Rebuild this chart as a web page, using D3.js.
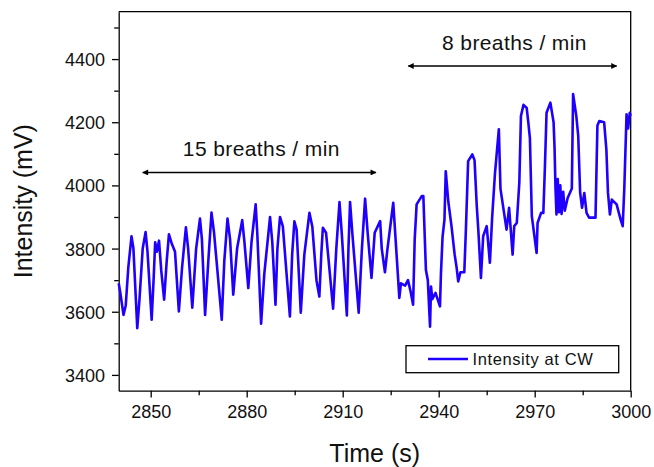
<!DOCTYPE html>
<html>
<head>
<meta charset="utf-8">
<script src="https://cdn.jsdelivr.net/npm/d3@7"></script>
<style>
  body { margin: 0; background: #fff; }
  svg { display: block; font-family: "Liberation Sans", Arial, sans-serif; }
</style>
</head>
<body>
<div id="chart"></div>
<script>
// time (s) and intensity (mV)
var times = [
  2840.0, 2840.5, 2841.5, 2842.2, 2843.0, 2844.0, 2844.6, 2845.8, 2846.5, 2847.5,
  2848.4, 2849.0, 2850.3, 2850.9, 2851.4, 2851.9, 2852.6, 2853.3, 2854.2, 2855.0,
  2855.7, 2856.6, 2857.6, 2858.8, 2859.8, 2861.0, 2861.7, 2863.0, 2864.2, 2865.4,
  2866.0, 2867.0, 2868.0, 2869.0, 2869.8, 2872.2, 2873.0, 2874.0, 2874.8, 2875.8,
  2877.0, 2878.6, 2879.3, 2880.5, 2881.5, 2882.8, 2883.3, 2884.5, 2885.5, 2887.3,
  2888.0, 2889.0, 2889.6, 2890.4, 2891.3, 2893.5, 2894.2, 2894.9, 2895.6, 2896.9,
  2898.0, 2899.6, 2900.5, 2901.8, 2902.7, 2903.3, 2903.8, 2904.8, 2907.0, 2908.0,
  2909.0, 2909.7, 2911.3, 2911.8, 2912.3, 2913.0, 2915.0, 2916.0, 2917.0, 2917.8,
  2919.0, 2920.0, 2921.7, 2922.2, 2923.2, 2924.0, 2925.8, 2926.4, 2927.7, 2928.2,
  2929.5, 2930.4, 2931.2, 2932.0, 2932.5, 2933.1, 2934.7, 2935.2, 2936.0, 2936.6,
  2937.0, 2937.3, 2937.6, 2938.0, 2939.0, 2940.4, 2940.7, 2941.2, 2941.8, 2942.2,
  2943.0, 2944.0, 2945.0, 2945.6, 2946.1, 2946.8, 2948.0, 2948.5, 2949.2, 2950.5,
  2951.2, 2951.9, 2952.4, 2953.2, 2953.9, 2955.0, 2956.0, 2956.7, 2957.6, 2958.8,
  2959.3, 2961.2, 2962.0, 2963.1, 2963.6, 2964.4, 2965.2, 2965.7, 2966.5, 2967.5,
  2968.0, 2968.5, 2969.1, 2970.6, 2970.9, 2972.0, 2972.7, 2973.2, 2973.7, 2974.9,
  2975.9, 2976.2, 2976.5, 2976.8, 2977.2, 2977.6, 2978.0, 2978.4, 2978.9, 2979.4,
  2980.3, 2981.6, 2982.0, 2983.0, 2983.6, 2984.2, 2984.8, 2985.5, 2986.2, 2987.0,
  2989.0, 2989.6, 2990.2, 2991.7, 2992.4, 2992.9, 2993.5, 2994.1, 2995.6, 2996.9,
  2997.5, 2998.0, 2998.7, 2999.2, 2999.7, 3000.0
];
var intensity = [
  3690, 3660, 3590, 3620, 3740, 3839, 3800, 3548, 3640, 3800,
  3852, 3790, 3575, 3700, 3820, 3790, 3825, 3730, 3638, 3760,
  3845, 3815, 3790, 3601, 3740, 3867, 3800, 3613, 3800, 3895,
  3830, 3590, 3760, 3914, 3850, 3575, 3760, 3895, 3830, 3654,
  3800, 3890, 3820, 3675, 3820, 3940, 3850, 3562, 3720, 3900,
  3820, 3622, 3800, 3900, 3870, 3585, 3780, 3886, 3860, 3597,
  3780, 3913, 3870, 3700, 3648, 3780, 3866, 3850, 3610, 3800,
  3947, 3850, 3588, 3800, 3947, 3850, 3597, 3800, 3958, 3850,
  3707, 3850, 3887, 3800, 3725, 3800, 3945, 3850, 3644, 3690,
  3683, 3700, 3665, 3622, 3829, 3940, 3966, 3966, 3733, 3700,
  3614, 3553, 3680, 3640, 3660, 3617, 3720, 3836, 3892, 4045,
  3949, 3871, 3780, 3740, 3696, 3725, 3725, 3860, 4077, 4098,
  4080, 3934, 3855, 3707, 3839, 3871, 3755, 3898, 4040, 4178,
  3990, 3860, 3929, 3781, 3871, 3881, 4010, 4220, 4255, 4245,
  4200, 4150, 3903, 3786, 3881, 3913, 3913, 4061, 4230, 4262,
  4200, 4120, 3990, 3908, 4020, 3915, 4000, 3910, 3980, 3920,
  3960, 3990, 4289, 4220, 4157, 3977, 3929, 3976, 3913, 3898,
  3898, 4190, 4204, 4200, 4113, 3977, 3908, 3955, 3940, 3890,
  3871, 3990, 4225, 4180, 4230, 4220
];

var xTicks = [2850, 2880, 2910, 2940, 2970, 3000];
var xMinor = [2865, 2895, 2925, 2955, 2985];
var yTicks = [3400, 3600, 3800, 4000, 4200, 4400];
var yMinor = [3500, 3700, 3900, 4100, 4300, 4500];

// annotation arrows: [start, end, level] in data units
var arrow15 = [2847.5, 2920.4, 4041];
var arrow8 = [2930.5, 2995.6, 4378];
var legendLabel = "Intensity at CW";

function init() {
    var w = 654;
    var h = 467;
    var margin = {top: 11.7, right: 23.3, bottom: 76.3, left: 118.7};

    var svg = d3.select("#chart")
        .append("svg")
        .attr("width", w)
        .attr("height", h);

    var xScale = d3.scaleLinear()
        .domain([2840, 3000])
        .range([margin.left, w - margin.right]);

    var yScale = d3.scaleLinear()
        .domain([3350, 4550])
        .range([h - margin.bottom, margin.top]);

    var data = times.map((t, i) => ({t: t, v: intensity[i]}));

    // frame top and right
    svg.append("path")
        .attr("d", `M${xScale(2840)},${yScale(4550)}H${xScale(3000)}V${yScale(3350)}`)
        .attr("fill", "none")
        .attr("stroke", "#000")
        .attr("stroke-width", 1.3);

    // minor ticks
    svg.append("g")
        .attr("transform", `translate(0,${h - margin.bottom})`)
        .call(d3.axisBottom(xScale).tickValues(xMinor).tickSize(4.5).tickFormat(""))
        .call(g => g.select(".domain").remove())
        .selectAll("line").attr("stroke-width", 1.3);

    svg.append("g")
        .attr("transform", `translate(${margin.left},0)`)
        .call(d3.axisLeft(yScale).tickValues(yMinor).tickSize(4.5).tickFormat(""))
        .call(g => g.select(".domain").remove())
        .selectAll("line").attr("stroke-width", 1.3);

    // main axes
    var fmt = d3.format("d");
    var xAxis = svg.append("g")
        .attr("transform", `translate(0,${h - margin.bottom})`)
        .call(d3.axisBottom(xScale).tickValues(xTicks).tickFormat(fmt)
            .tickSize(6.7).tickSizeOuter(0).tickPadding(8));
    xAxis.attr("font-size", "18px").attr("font-family", "'Liberation Sans', Arial, sans-serif");

    var yAxis = svg.append("g")
        .attr("transform", `translate(${margin.left},0)`)
        .call(d3.axisLeft(yScale).tickValues(yTicks).tickFormat(fmt)
            .tickSize(6.7).tickSizeOuter(0).tickPadding(7));
    yAxis.attr("font-size", "18px").attr("font-family", "'Liberation Sans', Arial, sans-serif");
    yAxis.selectAll("text").attr("dy", "0.36em");

    svg.selectAll(".domain, .tick line").attr("stroke-width", 1.3);
    svg.selectAll(".tick text").attr("fill", "#111");

    // series
    var line = d3.line()
        .x(d => xScale(d.t))
        .y(d => yScale(d.v));

    svg.append("path")
        .datum(data)
        .attr("fill", "none")
        .attr("stroke", "#1f00ff")
        .attr("stroke-width", 2.6)
        .attr("stroke-linejoin", "round")
        .attr("d", line);

    // arrowheads
    var defs = svg.append("defs");
    defs.append("marker")
        .attr("id", "head")
        .attr("viewBox", "0 0 10 10")
        .attr("refX", 9)
        .attr("refY", 5)
        .attr("markerWidth", 8)
        .attr("markerHeight", 6)
        .attr("markerUnits", "userSpaceOnUse")
        .attr("orient", "auto-start-reverse")
        .append("path")
        .attr("d", "M0,0L10,5L0,10z")
        .attr("fill", "#000");

    [[arrow15, "15 breaths / min"], [arrow8, "8 breaths / min"]].forEach(function (a) {
        var r = a[0];
        svg.append("line")
            .attr("x1", xScale(r[0]))
            .attr("x2", xScale(r[1]))
            .attr("y1", yScale(r[2]))
            .attr("y2", yScale(r[2]))
            .attr("stroke", "#000")
            .attr("stroke-width", 1.5)
            .attr("marker-start", "url(#head)")
            .attr("marker-end", "url(#head)");
        svg.append("text")
            .attr("x", (xScale(r[0]) + xScale(r[1])) / 2 + 2)
            .attr("y", yScale(r[2]) - 16)
            .attr("text-anchor", "middle")
            .attr("font-size", "21px")
            .attr("letter-spacing", "0.4px")
            .attr("fill", "#111")
            .text(a[1]);
    });

    // legend
    var legend = svg.append("g");
    legend.append("rect")
        .attr("x", 406)
        .attr("y", 345.7)
        .attr("width", 212.7)
        .attr("height", 27)
        .attr("fill", "#fff")
        .attr("stroke", "#000")
        .attr("stroke-width", 1.3);
    legend.append("line")
        .attr("x1", 428)
        .attr("x2", 468)
        .attr("y1", 359)
        .attr("y2", 359)
        .attr("stroke", "#1f00ff")
        .attr("stroke-width", 2.6);
    legend.append("text")
        .attr("x", 472.5)
        .attr("y", 365.3)
        .attr("font-size", "16.5px")
        .attr("letter-spacing", "0.6px")
        .attr("fill", "#111")
        .text(legendLabel);

    // axis titles
    svg.append("text")
        .attr("x", (margin.left + w - margin.right) / 2)
        .attr("y", 462)
        .attr("text-anchor", "middle")
        .attr("font-size", "25px")
        .attr("fill", "#111")
        .text("Time (s)");

    svg.append("text")
        .attr("transform", `translate(32,${(margin.top + h - margin.bottom) / 2})rotate(-90)`)
        .attr("text-anchor", "middle")
        .attr("font-size", "25px")
        .attr("fill", "#111")
        .text("Intensity (mV)");
}

window.onload = init;
</script>
</body>
</html>
